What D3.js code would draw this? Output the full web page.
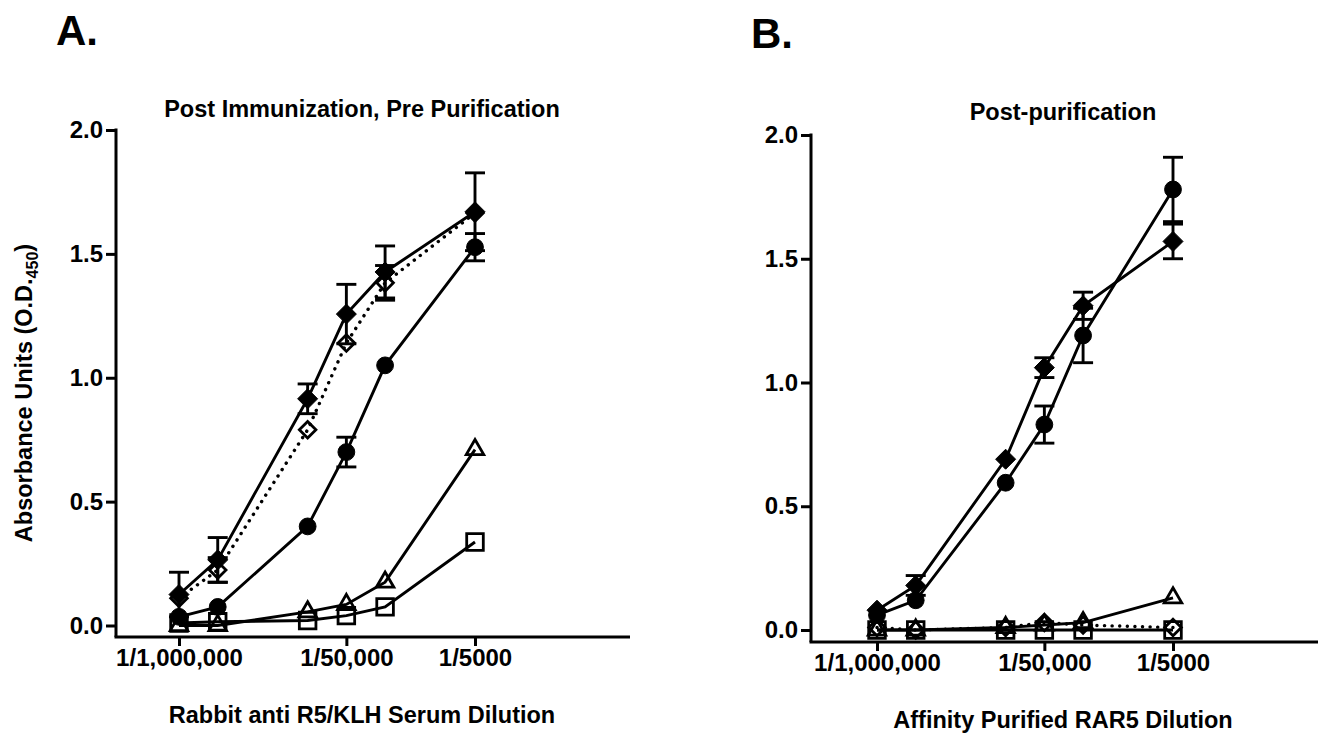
<!DOCTYPE html>
<html><head><meta charset="utf-8">
<script src="https://cdn.jsdelivr.net/npm/d3@7"></script>
<style>
body{margin:0;background:#fff}
text{font-family:"Liberation Sans",Arial,sans-serif;font-weight:bold;fill:#000}
</style>
</head><body>
<svg id="chart" width="1321" height="733"></svg>
<script>
// ---------- DATA ----------
const dilutions = [1000000, 500000, 100000, 50000, 25000, 5000];
const tickDilutions = [1000000, 50000, 5000];
const tickLabels = ["1/1,000,000", "1/50,000", "1/5000"];
const yTicks = [0, 0.5, 1.0, 1.5, 2.0];

// Panel A: Post Immunization, Pre Purification
const A_filledDiamond    = [0.125, 0.265, 0.915, 1.257, 1.427, 1.670];
const A_filledDiamondErr = [0.090, 0.090, 0.060, 0.120, 0.105, 0.157];
const A_openDiamond      = [0.110, 0.224, 0.790, 1.140, 1.383, 1.665];
const A_openDiamondErr   = [0.000, 0.050, 0.000, 0.000, 0.070, 0.000];
const A_filledCircle     = [0.035, 0.075, 0.400, 0.700, 1.050, 1.527];
const A_filledCircleErr  = [0.000, 0.000, 0.000, 0.060, 0.000, 0.055];
const A_openTriangle     = [0.000, 0.000, 0.055, 0.085, 0.175, 0.710];
const A_openSquare       = [0.010, 0.015, 0.020, 0.040, 0.075, 0.337];

// Panel B: Post-purification
const B_filledDiamond    = [0.080, 0.180, 0.690, 1.060, 1.310, 1.570];
const B_filledDiamondErr = [0.000, 0.040, 0.000, 0.040, 0.055, 0.070];
const B_openDiamond      = [0.010, 0.000, 0.010, 0.030, 0.020, 0.010];
const B_filledCircle     = [0.060, 0.120, 0.595, 0.830, 1.190, 1.780];
const B_filledCircleErr  = [0.000, 0.000, 0.000, 0.075, 0.110, 0.130];
const B_openTriangle     = [0.000, 0.000, 0.010, 0.020, 0.030, 0.130];
const B_openSquare       = [0.000, 0.000, 0.000, 0.000, 0.000, 0.000];

const panelTitles = ["Post Immunization, Pre Purification", "Post-purification"];
const xTitles = ["Rabbit anti R5/KLH Serum Dilution", "Affinity Purified RAR5 Dilution"];
const panelLetters = ["A.", "B."];

// ---------- LAYOUT ----------
const panels = [
  {letter: panelLetters[0], title: panelTitles[0], xTitle: xTitles[0],
   axisX: 116, axisY: 637, right: 630, xr: [179, 475], yr: [625.5, 130],
   letterPos: [56, 45], titlePos: [362, 117], xTitlePos: [362, 723], yLabel: true,
   series: [
     {v: A_openSquare, e: null, shape: "square", dotted: false},
     {v: A_openTriangle, e: null, shape: "triangle", dotted: false},
     {v: A_filledCircle, e: A_filledCircleErr, shape: "circle", dotted: false},
     {v: A_openDiamond, e: A_openDiamondErr, shape: "odiamond", dotted: true},
     {v: A_filledDiamond, e: A_filledDiamondErr, shape: "diamond", dotted: false}
   ]},
  {letter: panelLetters[1], title: panelTitles[1], xTitle: xTitles[1],
   axisX: 811, axisY: 642, right: 1318, xr: [877, 1173], yr: [630, 135],
   letterPos: [751, 48], titlePos: [1063, 120], xTitlePos: [1063, 728], yLabel: false,
   series: [
     {v: B_openSquare, e: null, shape: "square", dotted: false},
     {v: B_openDiamond, e: null, shape: "odiamond", dotted: true},
     {v: B_openTriangle, e: null, shape: "triangle", dotted: false},
     {v: B_filledCircle, e: B_filledCircleErr, shape: "circle", dotted: false},
     {v: B_filledDiamond, e: B_filledDiamondErr, shape: "diamond", dotted: false}
   ]}
];

const svg = d3.select("#chart");
const LW = 2.9;

function markerPath(shape) {
  const p = d3.path();
  if (shape === "diamond") { const r = 10; p.moveTo(0,-r); p.lineTo(r,0); p.lineTo(0,r); p.lineTo(-r,0); p.closePath(); }
  else if (shape === "odiamond") { const r = 8.3; p.moveTo(0,-r); p.lineTo(r,0); p.lineTo(0,r); p.lineTo(-r,0); p.closePath(); }
  else if (shape === "circle") { p.arc(0,0,8.4,0,2*Math.PI); p.closePath(); }
  else if (shape === "triangle") { const s = 17.5, h = s*Math.sqrt(3)/2; p.moveTo(0,-h*2/3); p.lineTo(s/2,h/3); p.lineTo(-s/2,h/3); p.closePath(); }
  else if (shape === "square") { const s = 8.3; p.rect(-s,-s,2*s,2*s); }
  return p.toString();
}

panels.forEach(P => {
  const g = svg.append("g");
  const x = d3.scaleLog().domain([dilutions[0], dilutions[dilutions.length-1]]).range(P.xr);
  const y = d3.scaleLinear().domain([0, 2]).range(P.yr);

  // y axis
  const yAxis = d3.axisLeft(y).tickValues(yTicks).tickFormat(d3.format(".1f")).tickSize(10).tickSizeOuter(0).tickPadding(3);
  const ya = g.append("g").attr("transform", `translate(${P.axisX},0)`).call(yAxis);
  ya.select(".domain").remove();
  ya.selectAll(".tick line").attr("stroke", "#000").attr("stroke-width", 3);
  ya.selectAll(".tick text").style("font-size", "24px").style("font-family", '"Liberation Sans",Arial,sans-serif').style("font-weight", "bold").attr("fill", "#000");
  g.append("line").attr("x1", P.axisX).attr("x2", P.axisX).attr("y1", y(2) - 1.5).attr("y2", P.axisY)
    .attr("stroke", "#000").attr("stroke-width", 3);

  // x axis
  const xAxis = d3.axisBottom(x).tickValues(tickDilutions).tickFormat((d, i) => tickLabels[i]).tickSize(9).tickSizeOuter(0).tickPadding(3);
  const xa = g.append("g").attr("transform", `translate(0,${P.axisY})`).call(xAxis);
  xa.select(".domain").remove();
  xa.selectAll(".tick line").attr("stroke", "#000").attr("stroke-width", 3);
  xa.selectAll(".tick text").style("font-size", "24px").style("font-family", '"Liberation Sans",Arial,sans-serif').style("font-weight", "bold").attr("fill", "#000");
  g.append("line").attr("x1", P.axisX - 1.5).attr("x2", P.right).attr("y1", P.axisY).attr("y2", P.axisY)
    .attr("stroke", "#000").attr("stroke-width", 3);

  // texts
  g.append("text").attr("x", P.letterPos[0]).attr("y", P.letterPos[1]).style("font-size", "42px").text(P.letter);
  g.append("text").attr("x", P.titlePos[0]).attr("y", P.titlePos[1]).attr("text-anchor", "middle").style("font-size", "23.5px").text(P.title);
  g.append("text").attr("x", P.xTitlePos[0]).attr("y", P.xTitlePos[1]).attr("text-anchor", "middle").style("font-size", "23.5px").text(P.xTitle);
  if (P.yLabel) {
    const t = g.append("text").attr("transform", "translate(32,393) rotate(-90)").attr("text-anchor", "middle").style("font-size", "23.5px");
    t.append("tspan").text("Absorbance Units (O.D.");
    t.append("tspan").attr("dy", 6).style("font-size", "16px").text("450");
    t.append("tspan").attr("dy", -6).text(")");
  }

  // series
  const line = d3.line().x((d, i) => x(dilutions[i])).y(d => y(d));
  P.series.forEach(S => {
    const sg = g.append("g");
    sg.append("path").attr("d", line(S.v)).attr("fill", "none").attr("stroke", "#000")
      .attr("stroke-width", S.dotted ? 3.4 : LW)
      .attr("stroke-linecap", S.dotted ? "round" : "butt")
      .attr("stroke-dasharray", S.dotted ? "0.1 7.5" : null);
    if (S.e) {
      S.v.forEach((v, i) => {
        if (!S.e[i]) return;
        const cx = x(dilutions[i]);
        const y1 = y(v + S.e[i]), y0 = y(Math.max(0, v - S.e[i]));
        sg.append("line").attr("x1", cx).attr("x2", cx).attr("y1", y1).attr("y2", y0).attr("stroke", "#000").attr("stroke-width", LW);
        [y1, y0].forEach(yy => sg.append("line").attr("x1", cx - 10).attr("x2", cx + 10).attr("y1", yy).attr("y2", yy).attr("stroke", "#000").attr("stroke-width", LW));
      });
    }
    const filled = (S.shape === "diamond" || S.shape === "circle");
    sg.selectAll("path.m").data(S.v).enter().append("path").attr("class", "m")
      .attr("d", markerPath(S.shape))
      .attr("transform", (d, i) => `translate(${x(dilutions[i])},${y(d)})`)
      .attr("fill", filled ? "#000" : "none")
      .attr("stroke", "#000").attr("stroke-width", filled ? 1 : 2.8);
  });
});
</script>
</body></html>
